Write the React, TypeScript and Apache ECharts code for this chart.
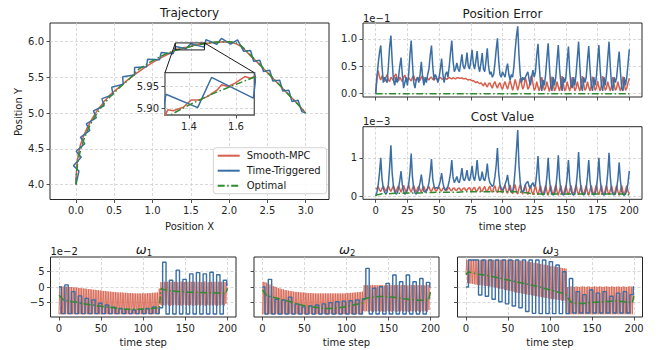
import React, { useEffect, useRef } from "react";
import * as echarts from "echarts";

const FONT = '"DejaVu Sans", sans-serif';
const AX = "#262626";
const RED = "#d6604d";
const BLUE = "#3a6ea5";
const GREEN = "#2e8b2e";
const DASHDOT = [7, 2.5, 1.5, 2.5];

// ---------- tick labels ----------
const trajXTicks = [0, 0.5, 1, 1.5, 2, 2.5, 3];
const trajYTicks = [4, 4.5, 5, 5.5, 6];
const insetXTicks = [1.4, 1.6];
const insetYTicks = [5.9, 5.95];
const stepTicks = [0, 25, 50, 75, 100, 125, 150, 175, 200];
const omegaXTicks = [0, 50, 100, 150, 200];
const errYTicks = [0, 0.5, 1];
const costYTicks = [0, 1];
const omegaYTicks = [-5, 0, 5];

// ---------- trajectory (x, y) ----------
const trajRed = [
  [0, 4.0], [0.003, 4.12], [0.012, 4.27], [0.03, 4.42], [0.06, 4.56], [0.1, 4.68], [0.15, 4.8],
  [0.21, 4.92], [0.28, 5.04], [0.36, 5.15], [0.45, 5.26], [0.55, 5.35], [0.66, 5.45], [0.78, 5.55],
  [0.9, 5.64], [1.02, 5.72], [1.14, 5.79], [1.24, 5.845], [1.3, 5.885], [1.31, 5.896], [1.333, 5.894],
  [1.376, 5.902], [1.41, 5.919], [1.447, 5.919], [1.48, 5.927], [1.52, 5.942], [1.539, 5.954],
  [1.567, 5.95], [1.596, 5.958], [1.638, 5.973], [1.66, 5.969], [1.69, 5.975], [1.75, 5.982],
  [1.82, 5.99], [1.9, 5.996], [1.97, 5.998], [2.04, 5.99], [2.1, 5.965], [2.16, 5.93], [2.22, 5.87],
  [2.29, 5.79], [2.37, 5.71], [2.46, 5.61], [2.55, 5.51], [2.64, 5.41], [2.73, 5.31], [2.82, 5.21],
  [2.91, 5.11], [3.0, 5.0],
];
const trajBlue = [
  [0, 4.0], [0.039, 4.189], [-0.033, 4.264], [0.068, 4.383], [0.003, 4.465], [0.115, 4.573],
  [0.059, 4.661], [0.181, 4.757], [0.135, 4.85], [0.265, 4.934], [0.228, 5.031], [0.367, 5.102],
  [0.339, 5.202], [0.484, 5.258], [0.467, 5.361], [0.617, 5.403], [0.61, 5.507], [0.763, 5.533],
  [0.766, 5.637], [0.921, 5.648], [0.935, 5.752], [1.09, 5.747], [1.114, 5.849], [1.268, 5.829],
  [1.302, 5.932], [1.437, 5.901], [1.496, 5.971], [1.674, 5.923], [1.697, 6.028], [1.839, 5.963],
  [1.9, 6.045], [2.02, 5.965], [2.11, 6.025], [2.19, 5.865], [2.28, 5.875], [2.32, 5.724],
  [2.4, 5.74], [2.45, 5.58], [2.53, 5.6], [2.57, 5.45], [2.66, 5.46], [2.7, 5.31], [2.78, 5.32],
  [2.82, 5.16], [2.9, 5.18], [2.95, 5.02], [3.0, 5.0],
];
const trajGreen = [
  [0, 4.0], [0.005, 4.14], [0.02, 4.28], [0.05, 4.44], [0.1, 4.62], [0.16, 4.78], [0.24, 4.94],
  [0.33, 5.08], [0.43, 5.21], [0.55, 5.34], [0.68, 5.46], [0.82, 5.615], [0.97, 5.714],
  [1.12, 5.8], [1.21, 5.845], [1.3, 5.878], [1.4, 5.907], [1.5, 5.933], [1.6, 5.955], [1.68, 5.972],
  [1.8, 5.99], [1.9, 5.997], [2.0, 6.0], [2.08, 5.99], [2.15, 5.95], [2.22, 5.88], [2.3, 5.79],
  [2.4, 5.68], [2.5, 5.57], [2.6, 5.46], [2.7, 5.35], [2.8, 5.23], [2.9, 5.12], [3.0, 5.0],
];

// ---------- position error (x1e-1), t = 0..200 ----------
const errBlue = [
  0.0, 0.3, 0.55, 0.75, 0.88, 0.5, 0.2, 0.3, 0.25, 0.2,
  0.5, 0.85, 1.06, 0.6, 0.25, 0.15, 0.3, 0.2, 0.3, 0.5,
  0.66, 0.35, 0.1, 0.2, 0.3, 0.15, 0.35, 0.7, 0.97, 0.55,
  0.2, 0.1, 0.25, 0.3, 0.2, 0.35, 0.58, 0.3, 0.15, 0.3,
  0.2, 0.35, 0.45, 0.7, 0.88, 0.5, 0.25, 0.35, 0.3, 0.2,
  0.3, 0.45, 0.64, 0.35, 0.2, 0.35, 0.4, 0.3, 0.5, 0.75,
  0.97, 0.6, 0.4, 0.45, 0.56, 0.45, 0.4, 0.55, 0.72, 0.5,
  0.45, 0.55, 0.75, 0.5, 0.45, 0.6, 0.8, 0.55, 0.45, 0.6,
  0.78, 0.5, 0.4, 0.55, 0.74, 0.45, 0.4, 0.6, 0.83, 0.5,
  0.35, 0.4, 0.3, 0.35, 0.55, 0.8, 1.01, 0.6, 0.35, 0.3,
  0.4, 0.35, 0.3, 0.45, 0.55, 0.35, 0.25, 0.35, 0.3, 0.5,
  0.8, 1.05, 1.23, 0.7, 0.35, 0.2, 0.3, 0.25, 0.3, 0.35,
  0.4, 0.25, 0.15, 0.3, 0.43, 0.3, 0.4, 0.7, 0.91, 0.5,
  0.2, 0.05, 0.25, 0.15, 0.35, 0.65, 0.92, 0.5, 0.15, 0.05,
  0.3, 0.15, 0.3, 0.6, 0.89, 0.45, 0.2, 0.05, 0.3, 0.2,
  0.3, 0.6, 0.86, 0.4, 0.15, 0.1, 0.3, 0.15, 0.35, 0.65,
  0.95, 0.5, 0.15, 0.05, 0.3, 0.2, 0.3, 0.6, 0.87, 0.45,
  0.15, 0.05, 0.3, 0.15, 0.3, 0.6, 0.89, 0.45, 0.15, 0.05,
  0.3, 0.15, 0.35, 0.65, 0.95, 0.5, 0.15, 0.05, 0.3, 0.2,
  0.3, 0.55, 0.77, 0.4, 0.1, 0.05, 0.3, 0.15, 0.3, 0.55,
  0.81,
];
const errRed = [
  0.0, 0.3, 0.42, 0.3, 0.25, 0.33, 0.28, 0.22, 0.3, 0.35,
  0.25, 0.22, 0.3, 0.27, 0.24, 0.33, 0.36, 0.26, 0.23, 0.3,
  0.26, 0.22, 0.3, 0.34, 0.25, 0.23, 0.29, 0.26, 0.23, 0.3,
  0.33, 0.25, 0.24, 0.3, 0.27, 0.24, 0.3, 0.32, 0.25, 0.25,
  0.29, 0.27, 0.25, 0.29, 0.3, 0.26, 0.25, 0.28, 0.27, 0.25,
  0.28, 0.3, 0.27, 0.26, 0.29, 0.28, 0.26, 0.28, 0.3, 0.28,
  0.27, 0.29, 0.28, 0.27, 0.29, 0.29, 0.28, 0.28, 0.29, 0.27,
  0.27, 0.28, 0.26, 0.25, 0.26, 0.25, 0.23, 0.24, 0.22, 0.2,
  0.22, 0.2, 0.18, 0.2, 0.17, 0.14, 0.2, 0.16, 0.12, 0.18,
  0.2, 0.14, 0.1, 0.18, 0.22, 0.15, 0.1, 0.17, 0.2, 0.12,
  0.08, 0.16, 0.22, 0.14, 0.08, 0.17, 0.24, 0.15, 0.06, 0.15,
  0.26, 0.16, 0.06, 0.15, 0.28, 0.18, 0.08, 0.14, 0.3, 0.2,
  0.08, 0.12, 0.28, 0.34, 0.18, 0.06, 0.1, 0.22, 0.12, 0.05,
  0.14, 0.3, 0.18, 0.06, 0.1, 0.22, 0.12, 0.04, 0.14, 0.31,
  0.18, 0.05, 0.1, 0.22, 0.12, 0.05, 0.15, 0.32, 0.18, 0.05,
  0.1, 0.22, 0.12, 0.05, 0.15, 0.3, 0.17, 0.05, 0.1, 0.22,
  0.12, 0.05, 0.15, 0.32, 0.18, 0.06, 0.1, 0.22, 0.12, 0.05,
  0.14, 0.31, 0.18, 0.06, 0.1, 0.23, 0.12, 0.05, 0.15, 0.32,
  0.18, 0.06, 0.1, 0.22, 0.12, 0.05, 0.14, 0.3, 0.17, 0.06,
  0.1, 0.22, 0.12, 0.05, 0.14, 0.31, 0.18, 0.06, 0.1, 0.2,
  0.28,
];
const errGreen = [[0, 0], [200, 0]];

// ---------- cost value (x1e-3), t = 0..200 ----------
const costBlue = [
  0.0, 0.1, 0.3, 0.6, 1.0, 0.45, 0.2, 0.1, 0.05, 0.1,
  0.3, 0.75, 1.33, 0.6, 0.25, 0.1, 0.05, 0.08, 0.2, 0.4,
  0.65, 0.3, 0.12, 0.05, 0.08, 0.15, 0.3, 0.6, 1.11, 0.5,
  0.2, 0.08, 0.05, 0.1, 0.2, 0.35, 0.56, 0.3, 0.12, 0.1,
  0.15, 0.2, 0.35, 0.6, 0.97, 0.45, 0.25, 0.2, 0.22, 0.2,
  0.28, 0.4, 0.6, 0.35, 0.2, 0.15, 0.2, 0.25, 0.4, 0.6,
  0.94, 0.5, 0.35, 0.42, 0.51, 0.38, 0.35, 0.5, 0.73, 0.45,
  0.4, 0.5, 0.68, 0.45, 0.4, 0.55, 0.79, 0.5, 0.4, 0.6,
  0.94, 0.55, 0.4, 0.45, 0.64, 0.45, 0.4, 0.55, 0.85, 0.5,
  0.35, 0.3, 0.25, 0.3, 0.5, 0.8, 1.26, 0.6, 0.3, 0.2,
  0.15, 0.2, 0.3, 0.4, 0.55, 0.3, 0.15, 0.1, 0.12, 0.3,
  0.7, 1.2, 1.73, 0.8, 0.35, 0.15, 0.1, 0.15, 0.3, 0.35,
  0.38, 0.25, 0.2, 0.3, 0.35, 0.25, 0.3, 0.6, 1.05, 0.45,
  0.15, 0.05, 0.03, 0.05, 0.2, 0.5, 1.0, 0.45, 0.15, 0.05,
  0.03, 0.05, 0.2, 0.55, 1.07, 0.45, 0.15, 0.05, 0.03, 0.05,
  0.2, 0.5, 0.94, 0.4, 0.15, 0.05, 0.03, 0.05, 0.25, 0.6,
  1.15, 0.5, 0.15, 0.05, 0.03, 0.05, 0.2, 0.5, 0.94, 0.4,
  0.15, 0.05, 0.03, 0.05, 0.2, 0.5, 1.0, 0.45, 0.15, 0.05,
  0.03, 0.05, 0.25, 0.6, 1.13, 0.5, 0.15, 0.05, 0.03, 0.05,
  0.2, 0.45, 0.88, 0.4, 0.12, 0.04, 0.02, 0.05, 0.15, 0.35,
  0.66,
];
const costRed = [
  0.18, 0.2, 0.25, 0.15, 0.12, 0.2, 0.26, 0.18, 0.12, 0.2,
  0.27, 0.18, 0.12, 0.2, 0.27, 0.18, 0.1, 0.2, 0.27, 0.18,
  0.1, 0.2, 0.28, 0.18, 0.1, 0.2, 0.28, 0.17, 0.1, 0.2,
  0.27, 0.17, 0.1, 0.2, 0.26, 0.16, 0.1, 0.2, 0.25, 0.15,
  0.12, 0.2, 0.25, 0.15, 0.12, 0.2, 0.24, 0.15, 0.13, 0.2,
  0.23, 0.15, 0.13, 0.2, 0.22, 0.15, 0.14, 0.2, 0.22, 0.15,
  0.14, 0.2, 0.21, 0.15, 0.15, 0.2, 0.21, 0.15, 0.15, 0.2,
  0.21, 0.15, 0.15, 0.2, 0.22, 0.15, 0.14, 0.2, 0.23, 0.14,
  0.13, 0.2, 0.24, 0.14, 0.12, 0.2, 0.25, 0.14, 0.11, 0.2,
  0.26, 0.14, 0.1, 0.2, 0.27, 0.13, 0.09, 0.2, 0.28, 0.13,
  0.08, 0.2, 0.29, 0.13, 0.07, 0.2, 0.29, 0.12, 0.06, 0.2,
  0.3, 0.12, 0.05, 0.2, 0.3, 0.12, 0.05, 0.2, 0.3, 0.12,
  0.04, 0.15, 0.28, 0.12, 0.03, 0.15, 0.28, 0.12, 0.03, 0.15,
  0.27, 0.11, 0.03, 0.15, 0.28, 0.12, 0.02, 0.15, 0.28, 0.12,
  0.03, 0.16, 0.29, 0.12, 0.02, 0.15, 0.28, 0.11, 0.03, 0.15,
  0.27, 0.12, 0.03, 0.15, 0.28, 0.12, 0.02, 0.15, 0.29, 0.12,
  0.03, 0.15, 0.28, 0.11, 0.03, 0.15, 0.27, 0.12, 0.02, 0.15,
  0.28, 0.12, 0.03, 0.16, 0.29, 0.12, 0.03, 0.15, 0.28, 0.11,
  0.02, 0.15, 0.28, 0.12, 0.03, 0.15, 0.27, 0.12, 0.03, 0.15,
  0.28, 0.12, 0.02, 0.15, 0.28, 0.11, 0.03, 0.15, 0.27, 0.12,
  0.05,
];
const costGreen = [
  [0, 0.02], [5, 0.06], [10, 0.06], [15, 0.07], [20, 0.07], [25, 0.08], [30, 0.08], [35, 0.08],
  [40, 0.09], [45, 0.09], [50, 0.1], [55, 0.1], [60, 0.1], [65, 0.1], [70, 0.11], [75, 0.11],
  [80, 0.11], [85, 0.11], [90, 0.11], [95, 0.12], [100, 0.11], [105, 0.11], [110, 0.11],
  [115, 0.1], [120, 0.08], [125, 0.05], [130, 0.05], [135, 0.05], [140, 0.05], [145, 0.05],
  [150, 0.05], [155, 0.05], [160, 0.05], [165, 0.05], [170, 0.05], [175, 0.05], [180, 0.05],
  [185, 0.05], [190, 0.05], [195, 0.05], [200, 0.03],
];

// ---------- omega (x1e-2) ----------
// Time-Triggered: zero-order hold, value holds from each time to the next
const holdTimes = [
  0, 3, 7, 11, 15, 19, 23, 27, 31, 35, 39, 43, 47, 51, 55, 59, 63, 67, 71, 75, 79, 83, 87, 91, 95,
  99, 103, 107, 111, 115, 119, 123, 127, 131, 135, 139, 143, 147, 151, 155, 159, 163, 167, 171,
  175, 179, 183, 187, 191, 195, 199, 200,
];
const w1Blue = [
  0, -8.7, 0.7, -8.7, -1.5, -8.7, -2.9, -8.7, -3.7, -8.7, -4.2, -8.7, -5.3, -8.7, -5.9, -8.7,
  -6.6, -8.7, -7.0, -8.7, -7.3, -8.7, -7.5, -8.7, -7.3, -8.7, -7.0, -8.7, -6.5, -8.7, -6.8,
  8.1, -8.8, 2.2, -8.8, 5.5, -8.8, 2.5, -8.8, 4.3, -8.8, 4.7, -8.8, 4.3, -8.8, 4.8, -8.8, 4.0,
  -8.8, 2.2, 0.5, 0.5,
];
const w2Blue = [
  0, -8.8, 2.5, -8.8, -4.0, -8.8, -4.2, -8.8, -3.3, -8.8, -5.5, -8.8, -6.5, -8.8, -6.2, -8.8,
  -5.9, -8.8, -5.5, -8.8, -5.1, -8.8, -4.8, -8.8, -4.6, -8.8, -4.5, -8.8, -4.2, -8.8, -3.8,
  6.1, -8.8, -0.4, -8.8, 0.1, -8.8, 1.2, -8.8, 3.9, -8.8, 1.7, -8.8, 3.9, -8.8, 1.7, -8.8, 2.8,
  -8.8, 1.5, 0.0, 0.0,
];
const w3Blue = [
  0, 8.8, 8.8, 8.8, -2.6, 8.8, -3.0, 8.8, -4.0, 8.8, -4.8, 8.8, -5.5, 8.8, -6.2, 8.8, -6.8, 8.8,
  -8.0, 8.8, -8.6, 8.8, -8.7, 8.8, -8.7, 8.3, -8.7, 7.2, -8.7, 5.0, -8.7, 2.8, -8.5, -1.5, -8.5,
  -2.5, -8.5, -1.0, -8.5, -2.0, -8.5, -1.5, -8.5, -3.0, -8.5, -2.0, -8.5, -1.5, -8.5, -2.5, 0.0,
  0.0,
];
// Smooth-MPC alternates every step: lows at even steps, highs at odd steps (t = 0..199)
const w1RedLo = [
  -8.9, -8.9, -8.9, -8.9, -8.9, -8.9, -8.9, -8.9, -8.9, -8.9,
  -8.9, -8.9, -8.9, -8.9, -8.9, -8.9, -8.9, -8.9, -8.9, -8.9,
  -8.9, -8.9, -8.9, -8.9, -8.9, -8.9, -8.9, -8.9, -8.9, -8.9,
  -8.9, -8.9, -8.9, -8.9, -8.9, -8.9, -8.9, -8.9, -8.9, -8.9,
  -8.9, -8.9, -8.9, -8.9, -8.9, -8.9, -8.9, -8.9, -8.9, -8.9,
  -8.9, -8.9, -8.9, -8.9, -8.9, -8.9, -8.9, -8.9, -8.9, -8.9,
  -5.8, -6.0, -5.9, -6.1, -5.8, -6.0, -6.2, -5.9, -6.0, -5.8,
  -6.1, -5.9, -6.0, -6.2, -5.8, -6.0, -5.9, -6.1, -5.8, -6.0,
  -6.2, -5.9, -6.0, -5.8, -6.1, -5.9, -6.0, -6.2, -5.8, -6.0,
  -5.9, -6.1, -5.8, -6.0, -6.2, -5.9, -6.0, -5.8, -6.1, -5.5,
];
const w1RedHi = [
  0.3, 0.3, 0.2, 0.2, 0.1, 0.1, 0.0, 0.0, -0.1, -0.1,
  -0.2, -0.3, -0.3, -0.4, -0.5, -0.5, -0.6, -0.7, -0.7, -0.8,
  -0.9, -0.9, -1.0, -1.1, -1.1, -1.2, -1.3, -1.3, -1.4, -1.5,
  -1.5, -1.6, -1.6, -1.7, -1.7, -1.8, -1.8, -1.8, -1.9, -1.9,
  -1.9, -2.0, -2.0, -2.0, -2.1, -2.1, -2.1, -2.1, -2.1, -2.1,
  -2.1, -2.1, -2.0, -2.0, -2.0, -1.9, -1.9, -1.8, -1.8, -0.5,
  1.6, 1.7, 1.7, 1.6, 1.7, 1.8, 1.7, 1.6, 1.7, 1.7,
  1.6, 1.7, 1.8, 1.7, 1.6, 1.7, 1.7, 1.6, 1.7, 1.8,
  1.7, 1.6, 1.7, 1.7, 1.6, 1.7, 1.8, 1.7, 1.6, 1.7,
  1.7, 1.6, 1.7, 1.8, 1.7, 1.6, 1.7, 1.7, 1.6, 1.2,
];
const w2RedLo = [
  -8.9, -8.9, -8.9, -8.9, -8.9, -8.9, -8.9, -8.9, -8.9, -8.9,
  -8.9, -8.9, -8.9, -8.9, -8.9, -8.9, -8.9, -8.9, -8.9, -8.9,
  -8.9, -8.9, -8.9, -8.9, -8.9, -8.9, -8.9, -8.9, -8.9, -8.9,
  -8.9, -8.9, -8.9, -8.9, -8.9, -8.9, -8.9, -8.9, -8.9, -8.9,
  -8.9, -8.9, -8.9, -8.9, -8.9, -8.9, -8.9, -8.9, -8.9, -8.9,
  -8.9, -8.9, -8.9, -8.9, -8.9, -8.9, -8.9, -8.9, -8.9, -8.9,
  -7.8, -8.0, -7.9, -8.1, -7.8, -8.0, -8.2, -7.9, -8.0, -7.8,
  -8.1, -7.9, -8.0, -8.2, -7.8, -8.0, -7.9, -8.1, -7.8, -8.0,
  -8.2, -7.9, -8.0, -7.8, -8.1, -7.9, -8.0, -8.2, -7.8, -8.0,
  -7.9, -8.1, -7.8, -8.0, -8.2, -7.9, -8.0, -7.8, -8.1, -7.5,
];
const w2RedHi = [
  1.7, 1.6, 1.4, 1.1, 0.8, 0.5, 0.3, 0.1, -0.1, -0.3,
  -0.5, -0.7, -0.8, -1.0, -1.1, -1.2, -1.3, -1.4, -1.5, -1.6,
  -1.6, -1.7, -1.7, -1.8, -1.8, -1.9, -1.9, -2.0, -2.0, -2.0,
  -2.1, -2.1, -2.1, -2.1, -2.1, -2.1, -2.1, -2.1, -2.1, -2.1,
  -2.1, -2.1, -2.1, -2.1, -2.1, -2.1, -2.1, -2.1, -2.1, -2.1,
  -2.0, -2.0, -1.9, -1.9, -1.8, -1.8, -1.7, -1.7, -1.6, -1.5,
  0.6, 0.7, 0.6, 0.5, 0.6, 0.7, 0.6, 0.6, 0.5, 0.6,
  0.7, 0.6, 0.5, 0.6, 0.7, 0.6, 0.6, 0.5, 0.6, 0.7,
  0.6, 0.5, 0.6, 0.7, 0.6, 0.6, 0.5, 0.6, 0.7, 0.6,
  0.6, 0.5, 0.6, 0.7, 0.6, 0.6, 0.5, 0.6, 0.7, 0.4,
];
const w3RedLo = [
  4.2, 1.3, 1.2, 1.1, 1.0, 0.9, 0.8, 0.7, 0.6, 0.55,
  0.5, 0.4, 0.35, 0.3, 0.2, 0.1, 0.0, -0.1, -0.2, -0.4,
  -0.5, -0.6, -0.7, -0.9, -1.0, -1.1, -1.3, -1.4, -1.5, -1.7,
  -1.8, -1.9, -2.0, -2.1, -2.2, -2.3, -2.4, -2.5, -2.6, -2.7,
  -2.8, -2.9, -3.0, -3.1, -3.2, -3.3, -3.4, -3.5, -3.6, -3.7,
  -3.8, -3.9, -4.0, -4.0, -4.1, -4.2, -4.3, -4.4, -4.4, -4.5,
  -8.9, -8.9, -8.9, -8.9, -8.9, -8.9, -8.9, -8.9, -8.9, -8.9,
  -8.9, -8.9, -8.9, -8.9, -8.9, -8.9, -8.9, -8.9, -8.9, -8.9,
  -8.9, -8.9, -8.9, -8.9, -8.9, -8.9, -8.9, -8.9, -8.9, -8.9,
  -8.9, -8.9, -8.9, -8.9, -8.9, -8.9, -8.9, -8.9, -8.9, -8.9,
];
const w3RedHi = [
  8.9, 8.9, 8.9, 8.9, 8.9, 8.9, 8.9, 8.9, 8.9, 8.9,
  8.9, 8.9, 8.9, 8.9, 8.9, 8.9, 8.9, 8.9, 8.9, 8.9,
  8.9, 8.9, 8.9, 8.9, 8.9, 8.9, 8.9, 8.8, 8.8, 8.7,
  8.7, 8.6, 8.6, 8.5, 8.5, 8.4, 8.3, 8.2, 8.1, 8.0,
  7.9, 7.8, 7.7, 7.6, 7.5, 7.4, 7.3, 7.2, 7.1, 7.0,
  6.9, 6.8, 6.7, 6.6, 6.5, 6.4, 6.3, 6.2, 6.1, 6.0,
  0.0, 0.1, 0.2, 0.1, 0.0, 0.2, 0.1, 0.0, 0.1, 0.2,
  0.1, 0.0, 0.2, 0.1, 0.0, 0.1, 0.2, 0.1, 0.0, 0.2,
  0.1, 0.0, 0.1, 0.2, 0.1, 0.0, 0.2, 0.1, 0.0, 0.1,
  0.2, 0.1, 0.0, 0.2, 0.1, 0.0, 0.1, 0.2, 0.1, 0.3,
];
const w1Green = [
  [0, -2.7], [5, -4.2], [10, -4.5], [15, -4.8], [20, -4.9], [25, -5.2], [30, -5.5], [35, -5.7],
  [40, -5.9], [45, -6.1], [50, -6.3], [55, -6.5], [60, -6.6], [65, -6.8], [70, -7.0], [75, -7.1],
  [80, -7.3], [85, -7.3], [90, -7.2], [95, -7.3], [100, -7.2], [105, -7.1], [110, -7.0],
  [115, -6.9], [119, -6.9], [121, -0.6], [125, -0.9], [130, -1.1], [135, -1.3], [140, -1.5],
  [145, -1.5], [150, -1.6], [155, -1.7], [160, -1.7], [165, -1.8], [170, -1.8], [175, -1.9],
  [180, -1.9], [185, -2.0], [190, -2.0], [195, -2.1], [198, -2.1], [200, -0.4],
];
const w2Green = [
  [0, -1.0], [5, -2.8], [10, -3.2], [15, -3.5], [20, -3.8], [25, -4.2], [30, -4.6], [35, -5.0],
  [40, -5.4], [45, -5.8], [50, -6.1], [55, -6.3], [60, -6.5], [65, -6.7], [70, -6.9], [75, -7.0],
  [80, -7.0], [85, -6.9], [90, -6.8], [95, -6.6], [100, -6.4], [105, -6.1], [110, -5.8],
  [115, -5.5], [119, -5.3], [121, -4.0], [125, -3.6], [130, -3.4], [135, -3.2], [140, -3.1],
  [145, -3.1], [150, -3.2], [155, -3.3], [160, -3.5], [165, -3.7], [170, -3.9], [175, -4.1],
  [180, -4.2], [185, -4.3], [190, -4.3], [195, -4.2], [198, -4.2], [200, -1.2],
];
const w3Green = [
  [0, 4.0], [3, 5.0], [5, 4.8], [10, 4.5], [15, 4.2], [20, 4.0], [25, 3.8], [30, 3.5], [35, 3.2],
  [40, 2.9], [45, 2.6], [50, 2.3], [55, 2.0], [60, 1.7], [65, 1.4], [70, 1.1], [75, 0.8],
  [80, 0.5], [85, 0.2], [90, -0.2], [95, -0.6], [100, -1.0], [105, -1.3], [110, -1.7],
  [115, -2.0], [119, -2.4], [121, -3.5], [125, -5.0], [130, -5.3], [135, -5.4], [140, -5.4],
  [145, -5.2], [150, -5.0], [155, -5.0], [160, -4.9], [165, -4.8], [170, -4.7], [175, -4.6],
  [180, -4.6], [185, -4.7], [190, -4.9], [195, -5.0], [198, -5.1], [200, -2.6],
];

// ---------- helpers ----------
const indexed = (arr: number[]) => arr.map((v, i) => [i, v]);
const held = (vals: number[]) => vals.map((v, i) => [holdTimes[i], v]);
const alternating = (lo: number[], hi: number[]) => {
  const out: number[][] = [];
  for (let k = 0; k < lo.length; k++) {
    out.push([2 * k, lo[k]]);
    out.push([2 * k + 1, hi[k]]);
  }
  return out;
};
const minus = (s: string) => s.replace("-", "\u2212");

const splitLine = { show: true, lineStyle: { color: "#cfcfcf", type: [3, 2], width: 0.8 } };

function axis(
  gridIndex: number,
  min: number,
  max: number,
  ticks: number[],
  showLabel: boolean,
  fmt: (v: number) => string,
  z = 0
) {
  return {
    type: "value",
    gridIndex,
    min,
    max,
    z,
    axisLine: { show: false, onZero: false },
    axisTick: {
      show: true,
      inside: false,
      length: 3.5,
      lineStyle: { color: AX, width: 0.8 },
      customValues: ticks,
    },
    axisLabel: {
      show: showLabel,
      customValues: ticks,
      formatter: (v: number) => fmt(v),
      fontSize: 10,
      fontFamily: FONT,
      color: AX,
      margin: 6,
    },
    splitLine,
  };
}

function line(name: string, data: any[], idx: number, color: string, width: number, extra: any = {}) {
  return {
    type: "line",
    name,
    data,
    xAxisIndex: idx,
    yAxisIndex: idx,
    symbol: "none",
    showSymbol: false,
    silent: true,
    animation: false,
    clip: true,
    itemStyle: { color },
    lineStyle: { color, width, ...(extra.lineStyle || {}) },
    z: extra.z ?? 2,
    step: extra.step,
  };
}

const INSET = { x0: 1.298, x1: 1.678, y0: 5.884, y1: 5.982 };

const grids = [
  { left: 50, top: 23, width: 279, height: 176.5 }, // trajectory
  { left: 165, top: 72.7, width: 89.3, height: 42.3 }, // inset
  { left: 363, top: 23, width: 279, height: 74 }, // error
  { left: 363, top: 126.7, width: 279, height: 72.6 }, // cost
  { left: 50.5, top: 257, width: 185.5, height: 60 }, // w1
  { left: 254, top: 257, width: 185, height: 60 }, // w2
  { left: 457.5, top: 257, width: 185, height: 60 }, // w3
];

const f1 = (v: number) => v.toFixed(1);
const f2 = (v: number) => v.toFixed(2);
const fi = (v: number) => minus(String(Math.round(v)));

function textEl(id: string, x: number, y: number, text: string, size: number, opts: any = {}) {
  return {
    type: "text",
    id,
    x,
    y,
    rotation: opts.rotation || 0,
    z: 50,
    silent: true,
    style: {
      text,
      fontSize: size,
      fontFamily: FONT,
      fontStyle: opts.italic ? "italic" : "normal",
      fill: "#1a1a1a",
      align: opts.align || "center",
      verticalAlign: "middle",
      textAlign: opts.align || "center",
      textVerticalAlign: "middle",
    },
  };
}

export default function App() {
  const ref = useRef<HTMLDivElement>(null);
  useEffect(() => {
    const chart = echarts.init(ref.current!, null, { renderer: "svg" });
    const omegaCenters = [143.25, 346.5, 550];
    const texts: any[] = [
      textEl("t-traj", 189.5, 13, "Trajectory", 12),
      textEl("t-err", 502.5, 13.5, "Position Error", 12),
      textEl("t-cost", 502.5, 117, "Cost Value", 12),
      textEl("o1", 363, 18, "1e\u22121", 10, { align: "left" }),
      textEl("o3", 363, 121, "1e\u22123", 10, { align: "left" }),
      textEl("o2", 50.5, 251.5, "1e\u22122", 10, { align: "left" }),
      textEl("xl-traj", 189.5, 226, "Position X", 10),
      textEl("xl-cost", 502.5, 226, "time step", 10),
      textEl("yl-traj", 18, 112, "Position Y", 10, { rotation: Math.PI / 2 }),
    ];
    omegaCenters.forEach((cx, i) => {
      texts.push(textEl("w" + i, cx - 2, 249, "\u03c9", 13, { italic: true }));
      texts.push(textEl("ws" + i, cx + 3.5, 253, String(i + 1), 8.5, { align: "left" }));
      texts.push(textEl("ts" + i, cx, 342.5, "time step", 10));
    });

    const redBand = { lineStyle: { opacity: 0.9 } };
    const option: any = {
      animation: false,
      backgroundColor: "#ffffff",
      textStyle: { fontFamily: FONT },
      grid: grids.map((g, i) => ({
        ...g,
        show: true,
        containLabel: false,
        borderColor: i === 1 ? "#555" : AX,
        borderWidth: i === 1 ? 1.3 : 1,
        backgroundColor: i === 1 ? "#ffffff" : "transparent",
        z: i === 1 ? 10 : 0,
      })),
      xAxis: [
        axis(0, -0.339, 3.304, trajXTicks, true, f1),
        axis(1, INSET.x0, INSET.x1, insetXTicks, true, f1, 11),
        axis(2, -10, 210, stepTicks, false, fi),
        axis(3, -10, 210, stepTicks, true, fi),
        axis(4, -10, 210, omegaXTicks, true, fi),
        axis(5, -10, 210, omegaXTicks, true, fi),
        axis(6, -10, 210, omegaXTicks, true, fi),
      ],
      yAxis: [
        axis(0, 3.79, 6.261, trajYTicks, true, f1),
        axis(1, INSET.y0, INSET.y1, insetYTicks, true, f2, 11),
        axis(2, -0.0615, 1.2915, errYTicks, true, f1),
        axis(3, -0.0865, 1.8165, costYTicks, true, fi),
        axis(4, -9.8, 9.8, omegaYTicks, true, fi),
        axis(5, -9.8, 9.8, omegaYTicks, false, fi),
        axis(6, -9.8, 9.8, omegaYTicks, false, fi),
      ],
      legend: {
        data: ["Smooth-MPC", "Time-Triggered", "Optimal"],
        orient: "vertical",
        left: 213.3,
        top: 147.7,
        itemWidth: 22,
        itemHeight: 10,
        itemGap: 5,
        padding: [3, 6, 3, 3.4],
        backgroundColor: "rgba(255,255,255,0.85)",
        borderColor: "#d4d4d4",
        borderWidth: 1,
        borderRadius: 3,
        selectedMode: false,
        z: 30,
        itemStyle: { opacity: 0, borderWidth: 0 },
        textStyle: { fontSize: 10, fontFamily: FONT, color: "#1a1a1a", padding: [0, 0, 0, 2] },
      },
      series: [
        line("Smooth-MPC", trajRed, 0, RED, 1.5),
        line("Time-Triggered", trajBlue, 0, BLUE, 1.5),
        line("Optimal", trajGreen, 0, GREEN, 1.5, { lineStyle: { type: DASHDOT } }),
        line("Smooth-MPC", trajRed, 1, RED, 1.5, { z: 12 }),
        line("Time-Triggered", trajBlue, 1, BLUE, 1.5, { z: 12 }),
        line("Optimal", trajGreen, 1, GREEN, 1.5, { z: 12, lineStyle: { type: DASHDOT } }),
        line("Smooth-MPC", indexed(errRed), 2, RED, 1.5),
        line("Time-Triggered", indexed(errBlue), 2, BLUE, 1.5),
        line("Optimal", errGreen, 2, GREEN, 1.5, { lineStyle: { type: DASHDOT } }),
        line("Smooth-MPC", indexed(costRed), 3, RED, 1.5),
        line("Time-Triggered", indexed(costBlue), 3, BLUE, 1.5),
        line("Optimal", costGreen, 3, GREEN, 1.5, { lineStyle: { type: DASHDOT } }),
        line("Smooth-MPC", alternating(w1RedLo, w1RedHi), 4, RED, 0.9, redBand),
        line("Time-Triggered", held(w1Blue), 4, BLUE, 1.4, { step: "end" }),
        line("Optimal", w1Green, 4, GREEN, 1.5, { lineStyle: { type: DASHDOT } }),
        line("Smooth-MPC", alternating(w2RedLo, w2RedHi), 5, RED, 0.9, redBand),
        line("Time-Triggered", held(w2Blue), 5, BLUE, 1.4, { step: "end" }),
        line("Optimal", w2Green, 5, GREEN, 1.5, { lineStyle: { type: DASHDOT } }),
        line("Smooth-MPC", alternating(w3RedLo, w3RedHi), 6, RED, 0.9, redBand),
        line("Time-Triggered", held(w3Blue), 6, BLUE, 1.4, { step: "end" }),
        line("Optimal", w3Green, 6, GREEN, 1.5, { lineStyle: { type: DASHDOT } }),
      ],
      graphic: { elements: texts },
    };
    chart.setOption(option);

    // inset marker rectangle and connectors, positioned through the axes' scales
    const px = (x: number, y: number) =>
      chart.convertToPixel({ xAxisIndex: 0, yAxisIndex: 0 }, [x, y]) as number[];
    const pi = (x: number, y: number) =>
      chart.convertToPixel({ xAxisIndex: 1, yAxisIndex: 1 }, [x, y]) as number[];
    const tl = px(INSET.x0, INSET.y1);
    const br = px(INSET.x1, INSET.y0);
    const tr = px(INSET.x1, INSET.y1);
    const itl = pi(INSET.x0, INSET.y1);
    const itr = pi(INSET.x1, INSET.y1);
    const stroke = { stroke: "#1a1a1a", lineWidth: 1, fill: "none" };
    chart.setOption({
      graphic: {
        elements: [
          ...texts,
          {
            type: "rect",
            id: "mark",
            z: 20,
            silent: true,
            shape: { x: tl[0], y: tl[1], width: br[0] - tl[0], height: br[1] - tl[1] },
            style: stroke,
          },
          {
            type: "line",
            id: "c1",
            z: 20,
            silent: true,
            shape: { x1: tl[0], y1: tl[1], x2: itl[0], y2: itl[1] },
            style: stroke,
          },
          {
            type: "line",
            id: "c2",
            z: 20,
            silent: true,
            shape: { x1: tr[0], y1: tr[1], x2: itr[0], y2: itr[1] },
            style: stroke,
          },
        ],
      },
    });
    return () => chart.dispose();
  }, []);
  return (
    <div
      ref={ref}
      style={{ position: "fixed", left: 0, top: 0, width: 656, height: 350, background: "#fff" }}
    />
  );
}
